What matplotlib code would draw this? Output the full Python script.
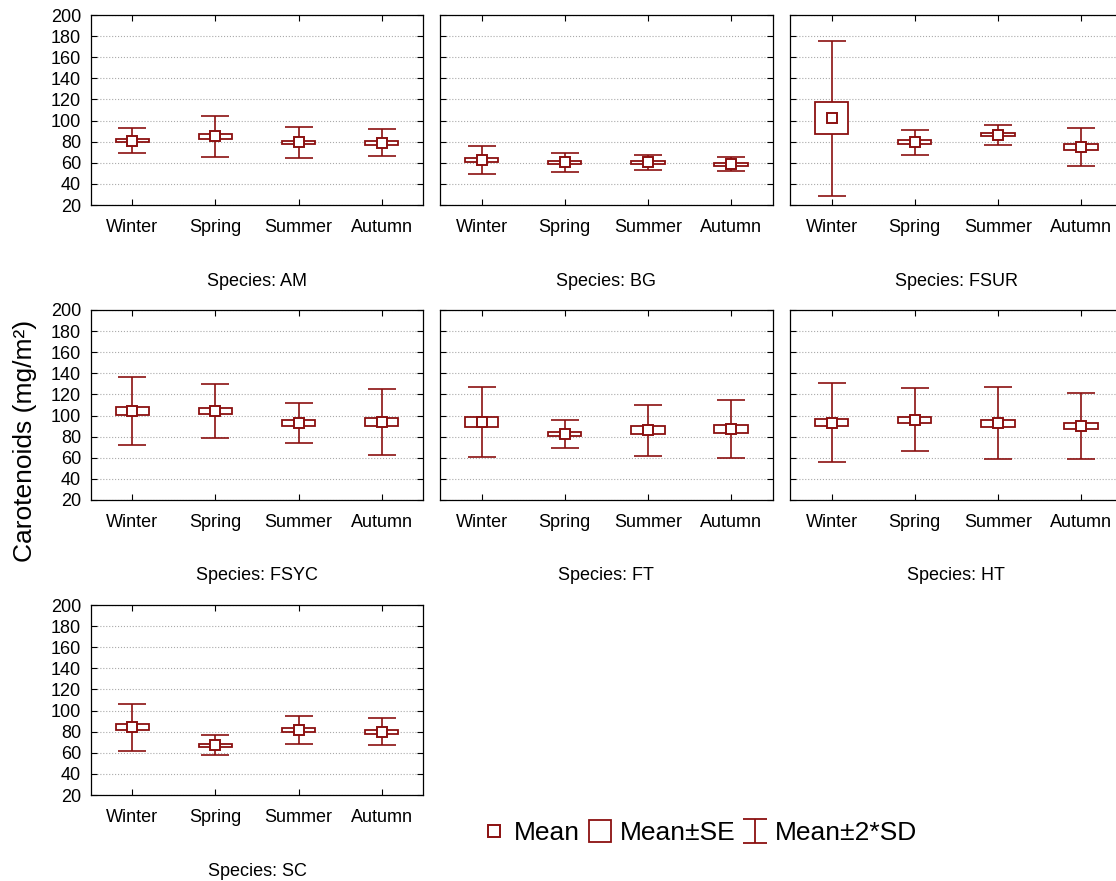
"""
Carotenoids by season, one panel per species (mean, SE box, 2*SD whiskers)
"""

import matplotlib
matplotlib.use("Agg")
import matplotlib.pyplot as plt
from matplotlib.lines import Line2D
from matplotlib.path import Path

plt.rcParams['font.family'] = ['Liberation Sans', 'DejaVu Sans']

seasons = ['Winter', 'Spring', 'Summer', 'Autumn']
species = ['AM', 'BG', 'FSUR', 'FSYC', 'FT', 'HT', 'SC']

# mean, standard error, 2*SD per species (Winter, Spring, Summer, Autumn)
means = {
    'AM':   [81.0, 85.0, 79.3, 79.0],
    'BG':   [62.7, 60.3, 60.3, 58.8],
    'FSUR': [102.3, 79.4, 86.6, 74.9],
    'FSYC': [104.3, 104.3, 92.9, 94.1],
    'FT':   [93.9, 82.5, 85.9, 87.2],
    'HT':   [93.3, 96.0, 92.7, 89.8],
    'SC':   [84.0, 67.2, 81.6, 80.0],
}
se = {
    'AM':   [1.5, 2.0, 1.7, 1.7],
    'BG':   [1.9, 1.5, 1.1, 1.4],
    'FSUR': [15.1, 1.9, 1.7, 2.5],
    'FSYC': [4.0, 3.3, 2.5, 4.0],
    'FT':   [4.7, 2.3, 3.8, 4.1],
    'HT':   [3.5, 3.0, 3.3, 3.0],
    'SC':   [2.8, 1.3, 2.0, 1.9],
}
two_sd = {
    'AM':   [11.8, 19.3, 14.5, 13.0],
    'BG':   [13.4, 9.2, 7.3, 6.3],
    'FSUR': [73.5, 11.9, 9.5, 18.0],
    'FSYC': [32.0, 26.0, 18.7, 31.2],
    'FT':   [32.7, 13.4, 24.3, 27.1],
    'HT':   [37.7, 30.0, 33.9, 31.2],
    'SC':   [21.9, 9.3, 13.0, 12.5],
}

RED = '#8b1010'
W, H = 1116, 881
col_left = [90.7, 440, 790]
row_bottom = [205, 500, 795]
ax_w, ax_h = 332.7, 190

fig = plt.figure(figsize=(W / 100, H / 100), dpi=100)

for i, sp in enumerate(species):
    r, c = divmod(i, 3)
    ax = fig.add_axes([col_left[c] / W, 1 - row_bottom[r] / H, ax_w / W, ax_h / H])
    x = list(range(len(seasons)))
    m = means[sp]

    ax.errorbar(x, m, yerr=two_sd[sp], fmt='none', ecolor=RED, elinewidth=1.2,
                capsize=10, capthick=1.2, zorder=2)
    ax.bar(x, [2 * s for s in se[sp]], bottom=[mv - s for mv, s in zip(m, se[sp])],
           width=0.4, color='white', edgecolor=RED, linewidth=1.3, zorder=3)
    ax.plot(x, m, linestyle='none', marker='s', markersize=6.5,
            markerfacecolor='white', markeredgecolor=RED, markeredgewidth=1.4, zorder=4)

    ax.set_xlim(-0.5, 3.5)
    ax.set_ylim(20, 200)
    ax.set_yticks(range(20, 201, 20))
    ax.set_xticks(x)
    ax.set_xticklabels(seasons)
    ax.tick_params(direction='in', top=True, right=True, length=4, width=0.8,
                   labelsize=13, colors='black')
    ax.tick_params(axis='x', pad=10)
    ax.tick_params(axis='y', pad=7)
    if c != 0:
        ax.set_yticklabels([])
    ax.grid(axis='y', linestyle=':', color='#aaaaaa', linewidth=0.8)
    ax.set_axisbelow(True)
    for s in ax.spines.values():
        s.set_linewidth(0.9)
    ax.text(0.5, -0.4, f'Species: {sp}', transform=ax.transAxes,
            ha='center', va='center', fontsize=13)

fig.text(25 / W, 0.5, 'Carotenoids (mg/m²)', rotation=90, ha='center', va='center',
         fontsize=19)

# whisker glyph for the legend
ibeam = Path([(-1, 1), (1, 1), (0, 1), (0, -1), (-1, -1), (1, -1)],
             [Path.MOVETO, Path.LINETO, Path.MOVETO, Path.LINETO, Path.MOVETO, Path.LINETO])
handles = [
    Line2D([], [], linestyle='none', marker='s', markersize=8, markerfacecolor='white',
           markeredgecolor=RED, markeredgewidth=1.4),
    Line2D([], [], linestyle='none', marker='s', markersize=16, markerfacecolor='white',
           markeredgecolor=RED, markeredgewidth=1.3),
    Line2D([], [], linestyle='none', marker=ibeam, markersize=17, markerfacecolor='none',
           markeredgecolor=RED, markeredgewidth=1.3),
]
fig.legend(handles, ['Mean', 'Mean±SE', 'Mean±2*SD'], loc='center',
           bbox_to_anchor=(700 / W, 1 - 833 / H), ncol=3, frameon=False, fontsize=19,
           handlelength=0.9, handletextpad=0.3, columnspacing=0.3)

fig.savefig('out.png', dpi=100)
